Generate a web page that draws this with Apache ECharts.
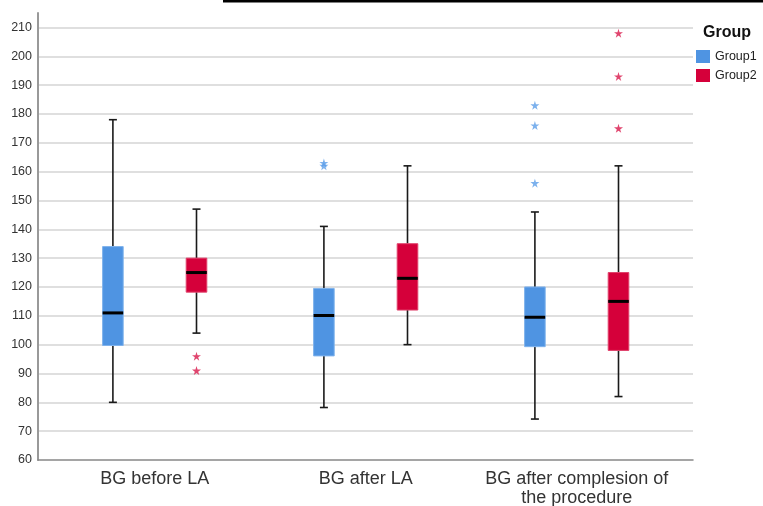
<!DOCTYPE html>
<html>
<head>
<meta charset="utf-8">
<script src="https://cdn.jsdelivr.net/npm/echarts@6/dist/echarts.min.js"></script>
<style>
html,body{margin:0;padding:0;background:#fff;}
#chart{width:763px;height:506px;}
</style>
</head>
<body>
<div id="chart"></div>
<script>
// ---- data ----
var categories = ['BG before LA', 'BG after LA', 'BG after complesion of\nthe procedure'];
var seriesNames = ['Group1', 'Group2'];
// [min, Q1, median, Q3, max]
var group1Box = [
  [80, 99.7, 111, 134, 178],
  [78.2, 96.1, 110.1, 119.5, 141],
  [74.2, 99.3, 109.5, 120, 146]
];
var group2Box = [
  [104, 118.2, 125, 130, 147],
  [100, 112, 123, 135, 162],
  [82, 98, 115, 125, 162]
];
// [category index, value]
var group1Outliers = [[1, 163], [1, 162], [2, 183], [2, 176], [2, 156]];
var group2Outliers = [[0, 96], [0, 91], [2, 208], [2, 193], [2, 175]];
var yTicks = {min: 60, max: 215, interval: 10};

// ---- styles ----
var blue = '#4f94e2';
var blueEdge = '#7fb2ec';
var red = '#d5003a';
var redEdge = '#e0406a';
var starPath = 'path://M50,0 L61,35 L98,35 L68,57 L79,91 L50,70 L21,91 L32,57 L2,35 L39,35 Z';
var fontFam = '"Liberation Sans", Arial, sans-serif';

function boxRows(stats) {
  return stats.map(function (s, i) { return [i].concat(s); });
}

function makeRender(offset, fill, edge) {
  return function (params, api) {
    var cat = api.value(0);
    var pMin = api.coord([cat, api.value(1)]);
    var pQ1 = api.coord([cat, api.value(2)]);
    var pMed = api.coord([cat, api.value(3)]);
    var pQ3 = api.coord([cat, api.value(4)]);
    var pMax = api.coord([cat, api.value(5)]);
    var x = pMin[0] + offset;
    var hw = 10.3, cw = 4;
    var ws = {stroke: '#1a1a1a', lineWidth: 1.6};
    return {
      type: 'group',
      children: [
        {type: 'line', shape: {x1: x, y1: pMax[1], x2: x, y2: pQ3[1]}, style: ws},
        {type: 'line', shape: {x1: x, y1: pQ1[1], x2: x, y2: pMin[1]}, style: ws},
        {type: 'line', shape: {x1: x - cw, y1: pMax[1], x2: x + cw, y2: pMax[1]}, style: ws},
        {type: 'line', shape: {x1: x - cw, y1: pMin[1], x2: x + cw, y2: pMin[1]}, style: ws},
        {type: 'rect', shape: {x: x - hw, y: pQ3[1], width: 2 * hw, height: pQ1[1] - pQ3[1]},
          style: {fill: fill, stroke: edge, lineWidth: 1}},
        {type: 'line', shape: {x1: x - hw, y1: pMed[1], x2: x + hw, y2: pMed[1]},
          style: {stroke: '#000', lineWidth: 3}}
      ]
    };
  };
}

var chart = echarts.init(document.getElementById('chart'), null, {renderer: 'canvas'});

chart.setOption({
  animation: false,
  backgroundColor: '#fff',
  textStyle: {fontFamily: fontFam},
  title: {
    text: 'Group',
    left: 698, top: 20,
    textStyle: {fontSize: 16, fontWeight: 'bold', color: '#111', fontFamily: fontFam}
  },
  legend: {
    data: seriesNames,
    orient: 'vertical',
    left: 691, top: 45,
    icon: 'rect',
    itemWidth: 14, itemHeight: 13,
    itemGap: 6,
    textStyle: {fontSize: 12.5, color: '#222', fontFamily: fontFam},
    itemStyle: {borderWidth: 0}
  },
  graphic: [
    {type: 'rect', shape: {x: 223, y: 0, width: 540, height: 2.5}, style: {fill: '#000'}}
  ],
  grid: [
    {left: 38, right: 70, top: 13, bottom: 46, containLabel: false, outerBoundsMode: 'none'},
    {left: 49.2, right: 80.8, top: 13, bottom: 46, containLabel: false, outerBoundsMode: 'none'}
  ],
  xAxis: [
    {
      type: 'value', gridIndex: 0, min: 0, max: 1,
      axisLine: {show: true, lineStyle: {color: '#888', width: 1.5}},
      axisTick: {show: false}, axisLabel: {show: false}, splitLine: {show: false}
    },
    {
      type: 'category', gridIndex: 1, data: categories,
      axisLine: {show: false}, axisTick: {show: false}, splitLine: {show: false},
      axisLabel: {interval: 0, fontSize: 18, color: '#333', margin: 10, lineHeight: 18.5, fontFamily: fontFam}
    }
  ],
  yAxis: [
    {
      type: 'value', gridIndex: 0, min: yTicks.min, max: yTicks.max, interval: yTicks.interval,
      axisLine: {show: true, lineStyle: {color: '#999', width: 2}},
      axisTick: {show: false},
      axisLabel: {showMaxLabel: false, fontSize: 12.5, color: '#333', margin: 6, fontFamily: fontFam},
      splitLine: {show: true, showMaxLine: false, showMinLine: false, lineStyle: {color: '#d4d4d4', width: 1.5}}
    },
    {
      type: 'value', gridIndex: 1, min: yTicks.min, max: yTicks.max, interval: yTicks.interval,
      show: false, splitLine: {show: false}
    }
  ],
  series: [
    {
      name: 'Group1', type: 'custom', xAxisIndex: 1, yAxisIndex: 1,
      itemStyle: {color: blue},
      renderItem: makeRender(-41.8, blue, blueEdge),
      encode: {x: 0, y: [1, 2, 3, 4, 5]},
      data: boxRows(group1Box), z: 3
    },
    {
      name: 'Group2', type: 'custom', xAxisIndex: 1, yAxisIndex: 1,
      itemStyle: {color: red},
      renderItem: makeRender(41.8, red, redEdge),
      encode: {x: 0, y: [1, 2, 3, 4, 5]},
      data: boxRows(group2Box), z: 3
    },
    {
      name: 'Group1 outliers', type: 'scatter', xAxisIndex: 1, yAxisIndex: 1,
      symbol: starPath, symbolSize: 9, symbolOffset: [-41.8, 0],
      itemStyle: {color: '#5b9de8'},
      data: group1Outliers, z: 4
    },
    {
      name: 'Group2 outliers', type: 'scatter', xAxisIndex: 1, yAxisIndex: 1,
      symbol: starPath, symbolSize: 9, symbolOffset: [41.8, 0],
      itemStyle: {color: '#d8174a'},
      data: group2Outliers, z: 4
    }
  ]
});
</script>
</body>
</html>
